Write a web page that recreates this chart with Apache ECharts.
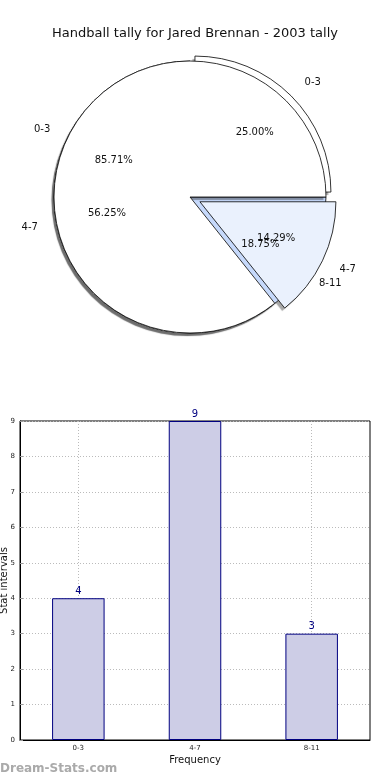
<!DOCTYPE html>
<html>
<head>
<meta charset="utf-8">
<script src="https://cdn.jsdelivr.net/npm/echarts@6/dist/echarts.min.js"></script>
<style>
html,body{margin:0;padding:0;background:#fff;}
#chart{width:390px;height:780px;}
</style>
</head>
<body>
<div id="chart"></div>
<script>
// Data
const titleText = 'Handball tally for Jared Brennan - 2003 tally';
const pieOuterCategories = ['0-3', '4-7', '8-11'];
const pieOuterValues = [4, 9, 3];
const pieOuterColors = ['#ffffff', '#eaf1fd', '#c6d9fb'];
const pieInnerCategories = ['0-3', '4-7'];
const pieInnerValues = [6, 1];
const pieInnerColors = ['#ffffff', '#eaf1fd'];
const barCategories = ['0-3', '4-7', '8-11'];
const barValues = [4, 9, 3];
const yName = 'Stat intervals';
const xName = 'Frequency';

const FONT = 'DejaVu Sans';
const R = 136;
const C = [190, 197];

const chart = echarts.init(document.getElementById('chart'), null, {renderer: 'canvas'});

function pctFmt(p) { return p.percent.toFixed(2) + '%'; }

function shadowSeries(cats, vals, explodeIdx, offset, z, shown) {
  return {
    type: 'pie', center: C, radius: [0, R], startAngle: 0, clockwise: false,
    silent: true, z: z, avoidLabelOverlap: false,
    selectedMode: 'multiple', selectedOffset: offset,
    emphasis: {disabled: true},
    itemStyle: {
      color: '#ffffff', borderWidth: 0,
      shadowColor: 'rgba(0,0,0,0.35)', shadowBlur: 1, shadowOffsetX: -2.5, shadowOffsetY: 3
    },
    label: {show: false}, labelLine: {show: false},
    data: cats.map((c, i) => {
      const d = {name: c, value: vals[i], selected: i === explodeIdx};
      if (!shown[i]) d.itemStyle = {color: 'rgba(0,0,0,0)', shadowColor: 'rgba(0,0,0,0)'};
      return d;
    })
  };
}

function sliceSeries(cats, vals, colors, explodeIdx, offset, z) {
  return {
    type: 'pie', center: C, radius: [0, R], startAngle: 0, clockwise: false,
    silent: true, z: z, avoidLabelOverlap: false,
    selectedMode: 'multiple', selectedOffset: offset,
    emphasis: {disabled: true},
    itemStyle: {borderColor: '#000', borderWidth: 0.8},
    label: {show: true, position: 'outside', formatter: '{b}', fontFamily: FONT, fontSize: 10, color: '#111', distanceToLabelLine: 0},
    labelLine: {show: false, length: 0.14 * R, length2: 0},
    data: cats.map((c, i) => ({name: c, value: vals[i], selected: i === explodeIdx, itemStyle: {color: colors[i]}}))
  };
}

function pctSeries(cats, vals, explodeIdx, offset) {
  return {
    type: 'pie', center: C, radius: [0, 1.2 * R], startAngle: 0, clockwise: false,
    silent: true, z: 10, avoidLabelOverlap: false,
    selectedMode: 'multiple', selectedOffset: offset,
    emphasis: {disabled: true},
    itemStyle: {color: 'rgba(0,0,0,0)', borderWidth: 0},
    label: {show: true, position: 'inside', formatter: pctFmt, fontFamily: FONT, fontSize: 10, color: '#111'},
    labelLine: {show: false},
    data: cats.map((c, i) => ({name: c, value: vals[i], selected: i === explodeIdx}))
  };
}

const option = {
  animation: false,
  textStyle: {fontFamily: FONT},
  title: {
    text: titleText, left: 'center', top: 22,
    textStyle: {fontFamily: FONT, fontSize: 13, fontWeight: 'normal', color: '#111'}
  },
  grid: {
    left: 20, right: 20, top: 421, bottom: 40,
    containLabel: false, outerBoundsMode: 'none',
    show: true, borderColor: '#000', borderWidth: 1, backgroundColor: 'transparent'
  },
  xAxis: {
    type: 'category', data: barCategories,
    name: xName, nameLocation: 'middle', nameGap: 15,
    nameTextStyle: {fontFamily: FONT, fontSize: 10, color: '#111'},
    axisLine: {lineStyle: {color: '#000', width: 1}},
    axisTick: {show: false},
    axisLabel: {fontFamily: FONT, fontSize: 7, color: '#222', margin: 5},
    splitLine: {show: true, alignWithLabel: true, lineStyle: {color: '#bbb', type: [1, 2], width: 1}}
  },
  yAxis: {
    type: 'value', min: 0, max: 9, interval: 1,
    name: yName, nameLocation: 'middle', nameGap: 11, nameRotate: 90, nameMoveOverlap: false,
    nameTextStyle: {fontFamily: FONT, fontSize: 10, color: '#111'},
    axisLine: {show: true, lineStyle: {color: '#000', width: 1}},
    axisTick: {show: true, inside: true, length: 3, lineStyle: {color: '#999'}},
    axisLabel: {fontFamily: FONT, fontSize: 7, color: '#222', margin: 5},
    splitLine: {show: true, lineStyle: {color: '#bbb', type: [1, 2], width: 1}}
  },
  graphic: [{
    type: 'text', left: 0, top: 763,
    style: {text: 'Dream-Stats.com', fontFamily: FONT, fontSize: 12, fontWeight: 'bold', fill: '#aaaaaa'}
  }],
  series: [
    shadowSeries(pieInnerCategories, pieInnerValues, 1, 11, 0, [false, true]),
    shadowSeries(pieOuterCategories, pieOuterValues, 0, 7, 1, [true, true, true]),
    sliceSeries(pieOuterCategories, pieOuterValues, pieOuterColors, 0, 7, 2),
    shadowSeries(pieInnerCategories, pieInnerValues, 1, 11, 3, [true, false]),
    sliceSeries(pieInnerCategories, pieInnerValues, pieInnerColors, 1, 11, 4),
    pctSeries(pieOuterCategories, pieOuterValues, 0, 7),
    pctSeries(pieInnerCategories, pieInnerValues, 1, 11),
    {
      type: 'bar', data: barValues, barWidth: '45%',
      itemStyle: {color: '#cdcde6', borderColor: '#000080', borderWidth: 1},
      label: {show: true, position: 'top', distance: 2, fontFamily: FONT, fontSize: 10, color: '#000080'},
      silent: true
    }
  ]
};
chart.setOption(option);
</script>
</body>
</html>
